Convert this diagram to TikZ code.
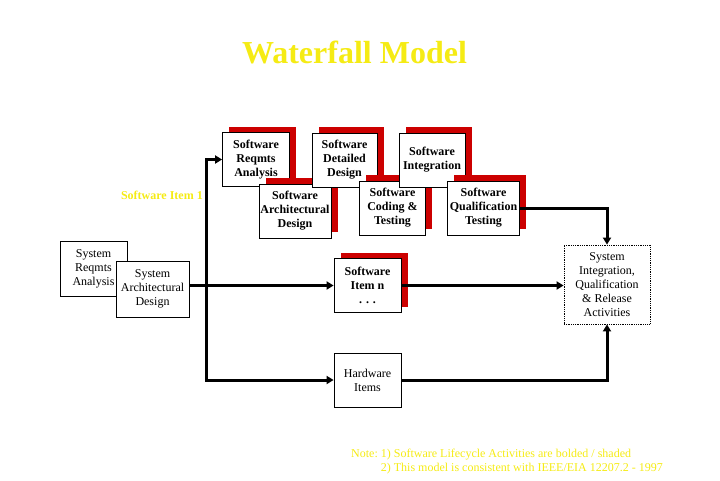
\documentclass[tikz,border=0pt]{standalone}
\usepackage{fontspec}
\setmainfont{Liberation Serif}
\usetikzlibrary{arrows.meta,shadows}
\definecolor{noteyellow}{RGB}{245,235,20}
\definecolor{shadered}{RGB}{204,0,0}

\begin{document}
\begin{tikzpicture}[x=1pt, y=-1pt,
        box/.style={draw=black, fill=white, line width=0.8pt, inner sep=0pt, minimum height=54pt, align=center, font=\fontsize{12}{14}\selectfont},
        swbox/.style={box, font=\bfseries\fontsize{12}{14}\selectfont, general shadow={fill=shadered, shadow xshift=6.5pt, shadow yshift=6pt}},
        flow/.style={line width=3pt, -{Triangle[length=7pt, width=8pt]}},
        yellowtext/.style={text=noteyellow, inner sep=0pt}]
        \useasboundingbox (0, 0) rectangle (720, 480);
        \node[yellowtext, font=\bfseries\fontsize{32}{36}\selectfont, anchor=base] (title) at (354.5, 63) {Waterfall Model};
        \node[yellowtext, font=\bfseries\fontsize{12}{14}\selectfont, anchor=base east] (item1) at (203, 199) {Software Item 1};
        \node[swbox, minimum width=67pt] (swra) at (256, 159.5) {Software\\Reqmts\\Analysis};
        \node[swbox, minimum width=72pt] (swad) at (295, 211) {Software\\Architectural\\Design};
        \node[swbox, minimum width=65pt] (swdd) at (344.5, 160) {Software\\Detailed\\Design};
        \node[swbox, minimum width=66pt] (swct) at (392.5, 208) {Software\\Coding \&\\Testing};
        \node[swbox, minimum width=66pt] (swint) at (432, 160) {Software\\Integration};
        \node[swbox, minimum width=72pt] (swqt) at (483.5, 208) {Software\\Qualification\\Testing};
        \node[swbox, minimum width=67pt] (swn) at (367.5, 285.5) {Software\\Item n\\. . .};
        \node[box, minimum width=67pt] (hw) at (367.5, 380) {Hardware\\Items};
        \node[box, minimum width=67pt, minimum height=55pt] (sra) at (93.5, 268.5) {System\\Reqmts\\Analysis};
        \node[box, minimum width=73pt, minimum height=56pt] (sad) at (152.5, 289) {System\\Architectural\\Design};
        \node[box, densely dotted, minimum width=86pt, minimum height=79pt] (sysint) at (607, 284.5) {System\\Integration,\\Qualification\\\& Release\\Activities};
        \coordinate (split) at (206, 285.5);
        \draw[flow] (sad.east |- swn.west) -- (swn.west);
        \draw[flow] (split) |- (swra.west);
        \draw[flow] (split) |- (hw.west);
        \draw[flow] (swqt.east) -| (sysint.north);
        \draw[flow] (swn.east) -- (swn.east -| sysint.west);
        \draw[flow] (hw.east) -| (sysint.south);
        \node[yellowtext, font=\fontsize{12}{14}\selectfont, anchor=north west, align=left] (note) at (351, 449) {Note:\ 1) Software Lifecycle Activities are bolded / shaded\\\phantom{Note:\ }2) This model is consistent with IEEE/EIA 12207.2 - 1997};
\end{tikzpicture}
\end{document}
